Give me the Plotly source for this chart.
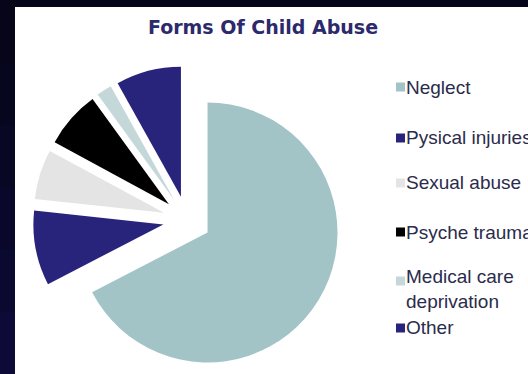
import plotly.graph_objects as go

# ---- data ----
labels = ["Neglect", "Pysical injuries", "Sexual abuse", "Psyche trauma",
          "Medical care deprivation", "Other"]
legend_text = ["Neglect", "Pysical injuries", "Sexual abuse", "Psyche trauma",
               "Medical care<br>deprivation", "Other"]
values = [67.4, 9.3, 6.2, 7.1, 1.9, 8.1]
colors = ["#a3c4c6", "#28247c", "#e4e4e4", "#000000", "#c4d8d9", "#28247c"]

# ---- layout constants (pixels) ----
W, H = 528, 374
pie_cx, pie_half = 187, 154          # pie box centre x and half size
pie_top = 66                         # top of pie box
pull = 0.185

legend_text_y = [87, 138, 183, 232, 289, 327]
legend_box_y = [87, 138, 183, 232, 281, 328]
legend_box_x0, legend_box_size = 396, 9
legend_text_x = 404

frame_steps = ["#06051a", "#07061f", "#080724", "#09082a", "#0a0930", "#0c0a36"]


def px_x(x):
    return x / W


def px_y(y):
    return 1 - y / H


fig = go.Figure()
fig.add_trace(go.Pie(
    labels=labels, values=values, sort=False, direction="clockwise",
    rotation=0, pull=pull, textinfo="none", hoverinfo="label+percent",
    marker=dict(colors=colors, line=dict(width=0)),
    showlegend=False,
    domain=dict(x=[px_x(pie_cx - pie_half), px_x(pie_cx + pie_half)],
                y=[0, px_y(pie_top)]),
))

shapes = []
# dark frame with a soft vertical gradient on the left strip
n = len(frame_steps)
for i, c in enumerate(frame_steps):
    shapes.append(dict(type="rect", xref="paper", yref="paper", x0=0,
                       x1=px_x(15), y0=1 - (i + 1) / n - 0.002, y1=1 - i / n,
                       fillcolor=c, line=dict(width=0), layer="below"))
# white panel
shapes.append(dict(type="rect", xref="paper", yref="paper", x0=px_x(15),
                   x1=1.01, y0=-0.01, y1=px_y(7), fillcolor="#ffffff",
                   line=dict(width=0), layer="below"))

annotations = []
for t, ty, by, c in zip(legend_text, legend_text_y, legend_box_y, colors):
    shapes.append(dict(
        type="rect", xref="paper", yref="paper",
        x0=px_x(legend_box_x0), x1=px_x(legend_box_x0 + legend_box_size),
        y0=px_y(by + legend_box_size / 2), y1=px_y(by - legend_box_size / 2),
        fillcolor=c, line=dict(width=0)))
    annotations.append(dict(
        text=t, xref="paper", yref="paper", x=px_x(legend_text_x),
        y=px_y(ty), xanchor="left", yanchor="middle", showarrow=False,
        align="left",
        font=dict(family="Liberation Sans, Arial", size=19, color="#2b2b4c")))

fig.update_layout(
    width=W, height=H, autosize=False,
    margin=dict(l=0, r=0, t=0, b=0),
    paper_bgcolor="#06051a",
    title=dict(text="Forms Of Child Abuse", x=263 / W, xanchor="center",
               y=px_y(27), yanchor="middle",
               font=dict(family="DejaVu Sans", size=19, color="#2c2a6c",
                         weight="bold")),
    shapes=shapes, annotations=annotations,
)

fig.write_html("out.html")
